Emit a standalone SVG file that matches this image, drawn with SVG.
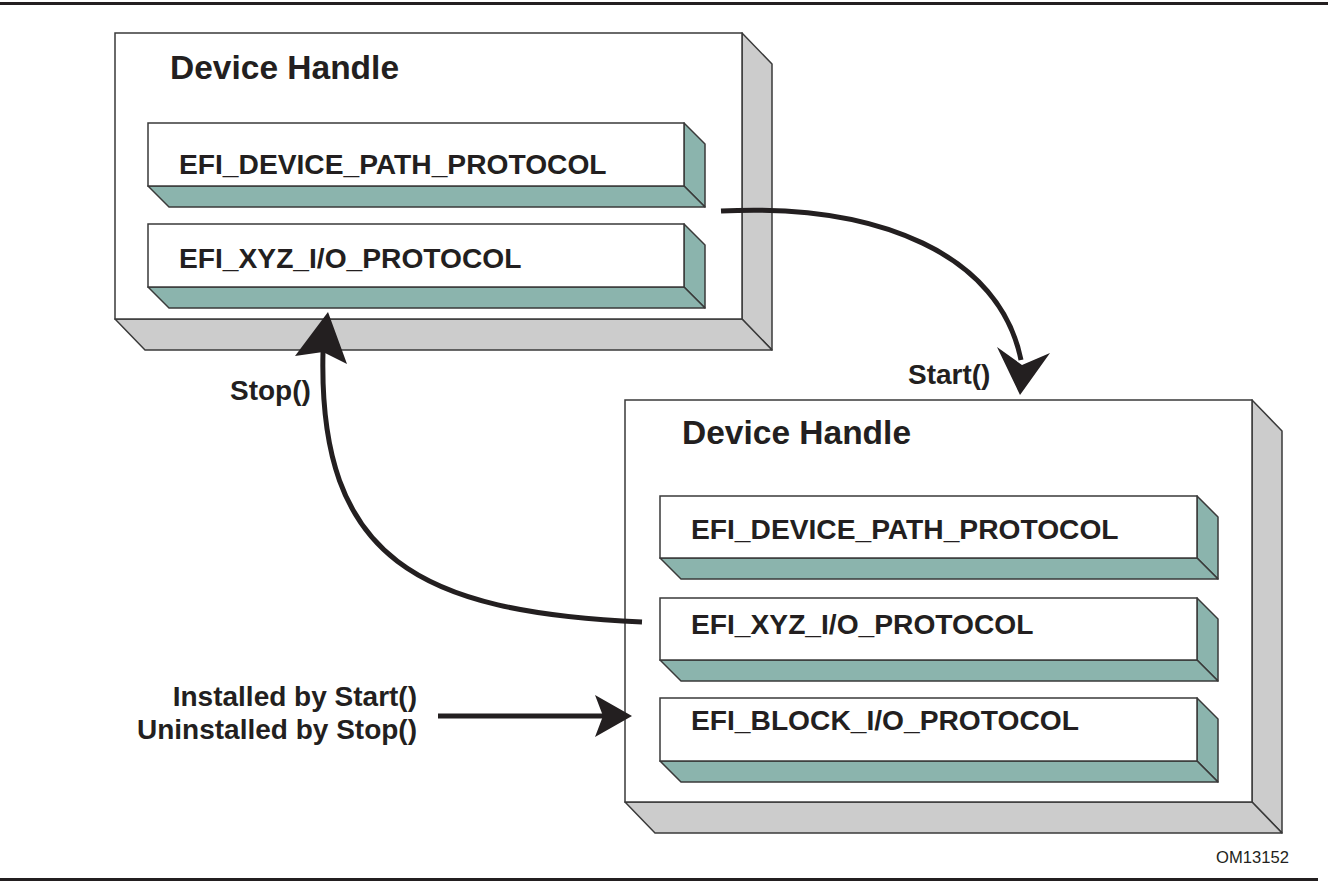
<svg xmlns="http://www.w3.org/2000/svg" width="1328" height="891" viewBox="0 0 1328 891">
<style>
.front{fill:#ffffff;stroke:#3a3a3a;stroke-width:1.5}
.gray{fill:#cccccc;stroke:#3a3a3a;stroke-width:1.5;stroke-linejoin:round}
.teal{fill:#8bb4ad;stroke:#3a3a3a;stroke-width:1.5;stroke-linejoin:round}
.bar{fill:#ffffff;stroke:#3a3a3a;stroke-width:1.5}
.title{font-family:"Liberation Sans",Arial,sans-serif;font-weight:bold;font-size:33.5px;fill:#231f20}
.proto{font-family:"Liberation Sans",Arial,sans-serif;font-weight:bold;font-size:28.2px;fill:#231f20}
.lbl{font-family:"Liberation Sans",Arial,sans-serif;font-weight:bold;font-size:28px;fill:#231f20}
.conn{fill:none;stroke:#231f20;stroke-width:5}
.head{fill:#231f20}
</style>
<rect x="0" y="0" width="1328" height="891" fill="#ffffff"/>
<line x1="0" y1="3.5" x2="1328" y2="3.5" stroke="#231f20" stroke-width="3"/>
<line x1="0" y1="879.5" x2="1318" y2="879.5" stroke="#231f20" stroke-width="3"/>

<g id="handle1">
<polygon class="gray" points="742,33 772,64 772,350 742,319"/>
<polygon class="gray" points="115,319 742,319 772,350 145,350"/>
<rect class="front" x="115" y="33" width="627" height="286"/>
<text class="title" x="170" y="79">Device Handle</text>
<g id="h1-devpath">
<polygon class="teal" points="684,123 705,144 705,207 684,186"/>
<polygon class="teal" points="148,186 684,186 705,207 169,207"/>
<rect class="bar" x="148" y="123" width="536" height="63"/>
<text class="proto" x="179" y="174">EFI_DEVICE_PATH_PROTOCOL</text>
</g>
<g id="h1-xyz">
<polygon class="teal" points="684,224 705,245 705,308 684,287"/>
<polygon class="teal" points="148,287 684,287 705,308 169,308"/>
<rect class="bar" x="148" y="224" width="536" height="63"/>
<text class="proto" x="179" y="268">EFI_XYZ_I/O_PROTOCOL</text>
</g>
</g>

<g id="handle2">
<polygon class="gray" points="1252,400 1282,431 1282,833 1252,802"/>
<polygon class="gray" points="625,802 1252,802 1282,833 655,833"/>
<rect class="front" x="625" y="400" width="627" height="402"/>
<text class="title" x="682" y="444">Device Handle</text>
<g id="h2-devpath">
<polygon class="teal" points="1197,496 1218,517 1218,579 1197,558"/>
<polygon class="teal" points="660,558 1197,558 1218,579 681,579"/>
<rect class="bar" x="660" y="496" width="537" height="62"/>
<text class="proto" x="691" y="539">EFI_DEVICE_PATH_PROTOCOL</text>
</g>
<g id="h2-xyz">
<polygon class="teal" points="1197,598 1218,619 1218,681 1197,660"/>
<polygon class="teal" points="660,660 1197,660 1218,681 681,681"/>
<rect class="bar" x="660" y="598" width="537" height="62"/>
<text class="proto" x="691" y="634">EFI_XYZ_I/O_PROTOCOL</text>
</g>
<g id="h2-block">
<polygon class="teal" points="1197,698 1218,719 1218,782 1197,761"/>
<polygon class="teal" points="660,761 1197,761 1218,782 681,782"/>
<rect class="bar" x="660" y="698" width="537" height="63"/>
<text class="proto" x="691" y="730">EFI_BLOCK_I/O_PROTOCOL</text>
</g>
</g>

<g id="connectors">
<path class="conn" d="M721,211 C880,203 1000,255 1021,360"/>
<polygon class="head" points="1020,395 1050,353 1022,365 997,347"/>
<path class="conn" d="M642,622 C420,612 318,560 323,352"/>
<polygon class="head" points="328,312 347,364 323,352 295,356"/>
<line class="conn" x1="438" y1="716" x2="603" y2="716"/>
<polygon class="head" points="632,716 595,737 603,716 595,695"/>
</g>

<g id="labels">
<text class="lbl" x="908" y="384">Start()</text>
<text class="lbl" x="230" y="400">Stop()</text>
<text class="lbl" x="417" y="706" text-anchor="end">Installed by Start()</text>
<text class="lbl" x="417" y="739" text-anchor="end">Uninstalled by Stop()</text>
<text x="1216" y="863" font-family="Liberation Sans,Arial,sans-serif" font-size="16.6" fill="#231f20">OM13152</text>
</g>
</svg>
